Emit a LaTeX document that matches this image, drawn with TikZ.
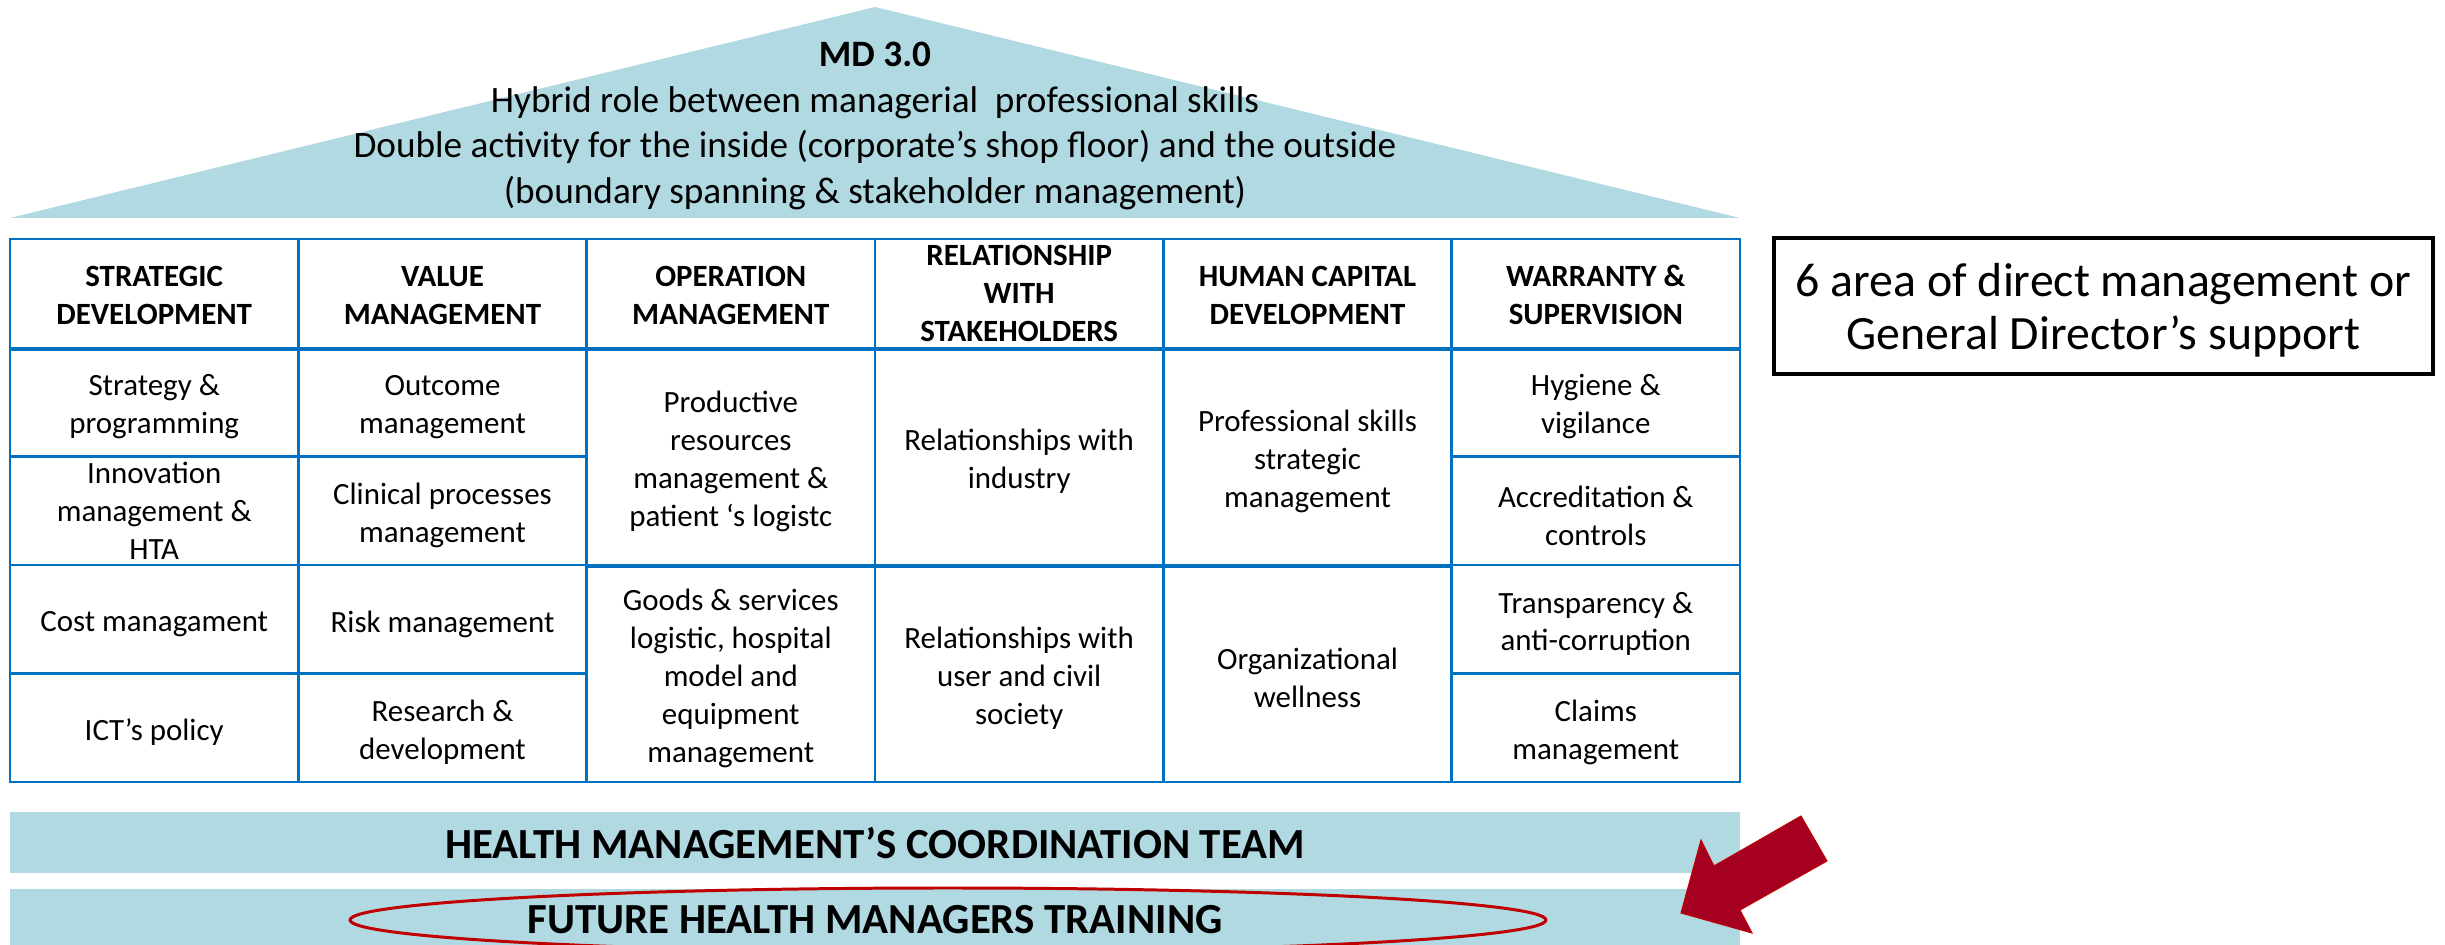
\documentclass[tikz,border=0pt]{standalone}
\usepackage{fontspec}
\setmainfont{Carlito}
\definecolor{roofblue}{RGB}{176,217,226}
\definecolor{tblue}{RGB}{0,112,192}
\definecolor{arrowred}{RGB}{165,0,33}
\definecolor{linered}{RGB}{192,0,0}
\begin{document}
\begin{tikzpicture}[x=1mm,y=-1mm,
  cell/.style={draw=tblue, line width=0.7pt, inner sep=0pt, minimum width=28.83mm},
  celltext/.style={align=center, inner sep=0pt, yshift=-0.47mm, font=\fontsize{8.8}{10.8}\selectfont},
  hdrtext/.style={celltext, yshift=0.3mm, font=\bfseries\fontsize{8.8}{10.8}\selectfont},
  hdr/.style={cell, minimum height=10.9mm, label={[hdrtext]center:{#1}}},
  hdrfull/.style={cell, minimum height=10.9mm, label={[hdrtext, yshift=0.2mm]center:{#1}}},
  bodycell/.style={cell, minimum height=10.85mm, label={[celltext]center:{#1}}},
  bodyfull/.style={cell, minimum height=10.85mm, label={[celltext, yshift=0.45mm]center:{#1}}},
  tallcell/.style={cell, minimum height=21.7mm, label={[celltext]center:{#1}}},
  bartext/.style={font=\bfseries\fontsize{12.2}{14}\selectfont, inner sep=0pt}]
\useasboundingbox (0,0) rectangle (244.5,94.5);
\fill[white] (0,0) rectangle (244.5,94.5);

% roof
\fill[roofblue] (1.0,21.8) -- (87.5,0.7) -- (174.0,21.8) -- cycle;
\node[align=center, inner sep=0pt, font=\fontsize{10.6}{12.9}\selectfont] (roof) at (87.5,12.6)
  {\textbf{MD 3.0}\\Hybrid role between managerial\ \ professional skills\\
   Double activity for the inside (corporate’s shop floor) and the outside\\
   (boundary spanning \& stakeholder management)};

% header row
\node[hdr={STRATEGIC\\DEVELOPMENT}] (h1) at (15.42,29.35) {};
\node[hdr={VALUE\\MANAGEMENT}] (h2) at (44.25,29.35) {};
\node[hdr={OPERATION\\MANAGEMENT}] (h3) at (73.08,29.35) {};
\node[hdrfull={RELATIONSHIP\\WITH\\STAKEHOLDERS}] (h4) at (101.92,29.35) {};
\node[hdr={HUMAN CAPITAL\\DEVELOPMENT}] (h5) at (130.75,29.35) {};
\node[hdr={WARRANTY \&\\SUPERVISION}] (h6) at (159.58,29.35) {};

% strategic development
\node[bodycell={Strategy \&\\programming}] (s1) at (15.42,40.225) {};
\node[bodyfull={Innovation\\management \&\\HTA}] (s2) at (15.42,51.075) {};
\node[bodycell={Cost managament}] (s3) at (15.42,61.925) {};
\node[bodycell={ICT’s policy}] (s4) at (15.42,72.775) {};
% value management
\node[bodycell={Outcome\\management}] (v1) at (44.25,40.225) {};
\node[bodycell={Clinical processes\\management}] (v2) at (44.25,51.075) {};
\node[bodycell={Risk management}] (v3) at (44.25,61.925) {};
\node[bodycell={Research \&\\development}] (v4) at (44.25,72.775) {};
% operation management
\node[tallcell={Productive\\resources\\management \&\\patient ‘s logistc}] (o1) at (73.08,45.65) {};
\node[tallcell={Goods \& services\\logistic, hospital\\model and\\equipment\\management}] (o2) at (73.08,67.35) {};
% relationship with stakeholders
\node[tallcell={Relationships with\\industry}] (r1) at (101.92,45.65) {};
\node[tallcell={Relationships with\\user and civil\\society}] (r2) at (101.92,67.35) {};
% human capital development
\node[tallcell={Professional skills\\strategic\\management}] (c1) at (130.75,45.65) {};
\node[tallcell={Organizational\\wellness}] (c2) at (130.75,67.35) {};
% warranty and supervision
\node[bodycell={Hygiene \&\\vigilance}] (w1) at (159.58,40.225) {};
\node[bodycell={Accreditation \&\\controls}] (w2) at (159.58,51.075) {};
\node[bodycell={Transparency \&\\anti-corruption}] (w3) at (159.58,61.925) {};
\node[bodycell={Claims\\management}] (w4) at (159.58,72.775) {};

% heavier rules under the header and between the row blocks
\draw[tblue, line width=1pt] (h1.south west) -- (h6.south east);
\draw[tblue, line width=1pt] (o1.south west) -- (c1.south east);

% side note
\node[draw=black, line width=0.9pt, minimum width=65.9mm, minimum height=13.6mm, inner sep=0pt]
  (note) at (210.35,30.6) {};
\node[align=center, inner sep=0pt, font=\fontsize{13.6}{15.2}\selectfont] (notetext) at (210.35,31.0)
  {6 area of direct management or\\General Director’s support};

% foundation bars
\fill[roofblue] (1.0,81.2) rectangle (174.0,87.3);
\node[bartext] (team) at (87.5,84.3) {HEALTH MANAGEMENT’S COORDINATION TEAM};
\fill[roofblue] (1.0,88.9) rectangle (174.0,95.0);
\node[bartext] (train) at (87.5,92.0) {FUTURE HEALTH MANAGERS TRAINING};
\draw[linered, line width=0.85pt] (94.8,92.0) ellipse [x radius=59.8, y radius=3.2];

% block arrow pointing at the training bar
\filldraw[fill=arrowred, draw=linered, line width=0.3pt]
  (180.1,81.6) -- (182.7,86.1) -- (174.0,91.0) -- (175.2,93.3) -- (168.1,91.3)
  -- (170.1,84.0) -- (171.4,86.6) -- cycle;
\end{tikzpicture}
\end{document}
